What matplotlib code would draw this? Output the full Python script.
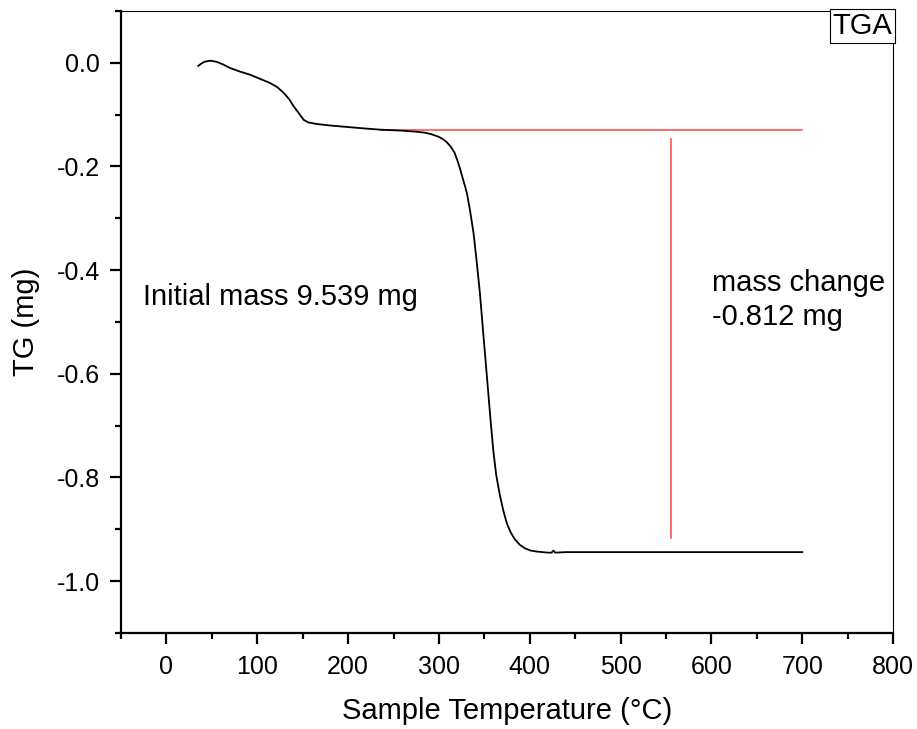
import matplotlib
matplotlib.use('Agg')
import matplotlib.pyplot as plt
from matplotlib.ticker import MultipleLocator

plt.rcParams['font.family'] = ['Liberation Sans', 'DejaVu Sans']

# TGA curve (sample temperature in C, mass change in mg)
temp = [35, 38, 42, 48, 55, 62, 70, 81, 92, 103, 114, 122, 129, 135, 140, 146,
        151, 156, 165, 180, 200, 220, 235, 260, 275, 285, 292, 300, 305, 309,
        313, 317, 320, 323, 326, 329, 331, 334, 338, 341, 345, 349, 353, 357,
        360, 363, 367, 371, 375, 379, 383, 389, 395, 401, 408, 414, 420, 424,
        426, 428, 440, 500, 555, 600, 650, 700]
tg = [-0.006, -0.002, 0.002, 0.004, 0.002, -0.003, -0.010, -0.017, -0.023,
      -0.031, -0.039, -0.047, -0.058, -0.070, -0.084, -0.098, -0.110, -0.115,
      -0.118, -0.121, -0.124, -0.127, -0.129, -0.131, -0.133, -0.135, -0.138,
      -0.143, -0.148, -0.154, -0.162, -0.173, -0.187, -0.203, -0.222, -0.240,
      -0.254, -0.283, -0.328, -0.375, -0.443, -0.527, -0.610, -0.694, -0.751,
      -0.795, -0.834, -0.865, -0.890, -0.906, -0.918, -0.930, -0.937, -0.941,
      -0.943, -0.944, -0.945, -0.945, -0.941, -0.945, -0.944, -0.944, -0.944,
      -0.944, -0.944, -0.944]

# red construction lines for the mass change
base_x = [235, 700]
base_y = [-0.129, -0.129]
drop_x = [555, 555]
drop_y = [-0.148, -0.917]

fig = plt.figure(figsize=(9.17, 7.29), dpi=100)
ax = fig.add_axes([0.132, 0.1317, 0.842, 0.8533])

ax.plot(base_x, base_y, color='#ff4444', lw=1.1)
ax.plot(drop_x, drop_y, color='#ff4444', lw=1.1)
ax.plot(temp, tg, color='black', lw=1.3)

ax.set_xlim(-50, 800)
ax.set_ylim(-1.1, 0.1)
ax.xaxis.set_major_locator(MultipleLocator(100))
ax.xaxis.set_minor_locator(MultipleLocator(50))
ax.yaxis.set_major_locator(MultipleLocator(0.2))
ax.yaxis.set_minor_locator(MultipleLocator(0.1))
ax.yaxis.set_major_formatter(plt.FuncFormatter(lambda v, p: '%.1f' % v))

for s in ['left', 'bottom']:
    ax.spines[s].set_linewidth(1.6)
for s in ['top', 'right']:
    ax.spines[s].set_linewidth(0.8)

ax.tick_params(which='major', direction='out', length=8, width=1.6,
               labelsize=18, top=False, right=False)
ax.tick_params(axis='x', which='major', pad=8)
ax.tick_params(axis='y', which='major', pad=7)
ax.tick_params(which='minor', direction='out', length=4.5, width=1.6,
               top=False, right=False)

ax.set_xlabel('Sample Temperature (°C)', fontsize=21, labelpad=13)
ax.set_ylabel('TG (mg)', fontsize=21, labelpad=12)

ax.text(-26, -0.452, 'Initial mass 9.539 mg', fontsize=21, va='center')
ax.text(601, -0.458, 'mass change\n-0.812 mg', fontsize=21, va='center',
        linespacing=1.3)
ax.text(0.999, 0.998, 'TGA', transform=ax.transAxes, fontsize=21,
        ha='right', va='top',
        bbox=dict(facecolor='white', edgecolor='black', lw=0.8,
                  boxstyle='square,pad=0.1'))

fig.savefig('out.png', dpi=100)
